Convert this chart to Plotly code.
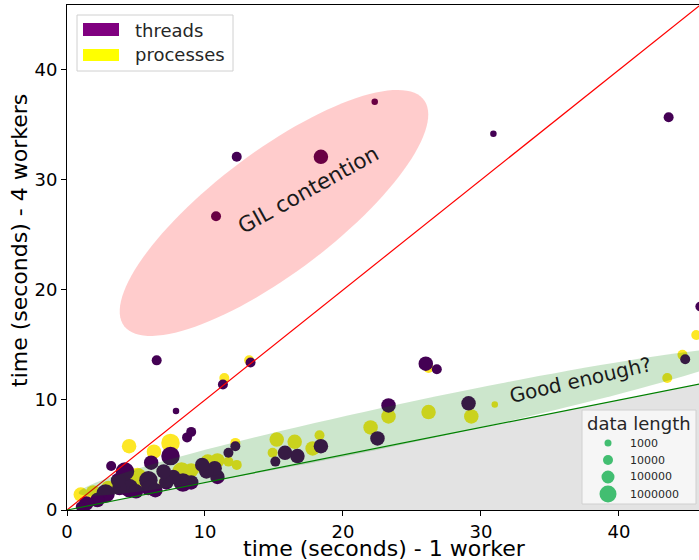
import numpy as np
import plotly.graph_objects as go

# ---------------- data ----------------
threads_x = [22.3, 12.3, 18.4, 10.8, 30.9, 43.6, 45.9, 6.5, 13.3, 11.3, 7.9, 8.7, 9.0,
             26.0, 26.8, 44.8, 29.1, 23.3, 22.5, 18.4, 16.7, 15.8, 15.1, 12.2, 11.7,
             10.9, 10.7, 10.1, 9.8, 9.0, 8.4, 7.7, 7.2, 7.0, 7.5, 6.1, 5.9, 5.9, 6.4,
             4.5, 4.2, 3.8, 3.2, 3.7, 2.8, 2.2, 1.4, 1.0, 5.0]
threads_y = [37.1, 32.1, 32.1, 26.7, 34.2, 35.7, 18.5, 13.6, 13.4, 11.4, 9.0, 6.6, 7.1,
             13.3, 12.8, 13.7, 9.7, 9.5, 6.5, 5.8, 4.9, 5.2, 4.4, 5.8, 5.2,
             3.0, 3.8, 3.5, 4.1, 2.5, 2.5, 3.0, 2.5, 3.5, 4.9, 4.3, 2.7, 2.0, 1.8,
             2.0, 3.5, 2.0, 4.0, 2.7, 1.5, 0.9, 0.6, 0.3, 1.7]
threads_len = [1e3, 1e4, 1e5, 1e4, 1e3, 1e4, 1e4, 1e4, 1e4, 1e4, 1e3, 1e4, 1e4,
               1e5, 1e4, 1e4, 1e5, 1e5, 1e5, 1e5, 1e5, 1e5, 1e4, 1e4, 1e4,
               1e5, 1e5, 1e5, 1e5, 1e5, 1e6, 1e5, 1e5, 1e5, 1e6, 1e5, 1e6, 1e5, 1e5,
               1e6, 1e6, 1e5, 1e4, 1e5, 1e6, 1e5, 1e5, 1e4, 1e5]

proc_x = [13.2, 11.4, 4.5, 6.3, 7.5, 12.2, 12.3, 10.9, 10.2, 11.7, 9.0, 9.9, 15.2,
          16.5, 14.9, 18.3, 17.8, 22.0, 23.3, 26.2, 29.3, 31.0, 26.2, 43.5, 44.6,
          45.6, 1.0, 1.9, 3.0, 5.1, 8.3, 7.0, 5.7]
proc_y = [13.6, 12.0, 5.8, 5.3, 6.1, 6.1, 4.1, 4.5, 4.4, 4.4, 3.6, 3.9, 6.4,
          6.2, 5.2, 6.8, 5.6, 7.5, 8.5, 8.9, 8.5, 9.6, 12.9, 12.0, 14.1,
          15.9, 1.4, 1.6, 2.0, 3.0, 3.5, 2.5, 2.4]
proc_len = [1e4, 1e4, 1e5, 1e5, 1e6, 1e4, 1e4, 1e5, 1e5, 1e4, 1e5, 1e5, 1e5,
            1e5, 1e4, 1e4, 1e5, 1e5, 1e5, 1e5, 1e5, 1e3, 1e4, 1e4, 1e4,
            1e4, 1e5, 1e5, 1e5, 1e6, 1e6, 1e4, 1e5]

x_ticks = [0, 10, 20, 30, 40]
y_ticks = [0, 10, 20, 30, 40]
size_legend = [1000, 10000, 100000, 1000000]

# ---------------- styling helpers ----------------
FONT = "DejaVu Sans"
PURPLE = "#440154"
YELLOW = "#fde725"
XMAX, YMAX = 45.8, 45.9
L, T, W, H = 67, 5, 699, 560
B = 510
PW = W - L
PH = B - T


def msize(n):
    return {3: 6.5, 4: 10, 5: 14.5, 6: 18.5}[int(round(np.log10(n)))]


def lsize(n):
    return {3: 7, 4: 10, 5: 13, 6: 17}[int(round(np.log10(n)))]


def px(xp):
    return (xp - L) / PW


def py(yp):
    return (B - yp) / PH


def ellipse_path(cx, cy, w, h, ang, n=120):
    t = np.linspace(0, 2 * np.pi, n)
    a = np.deg2rad(ang)
    xs = cx + w / 2 * np.cos(t) * np.cos(a) - h / 2 * np.sin(t) * np.sin(a)
    ys = cy + w / 2 * np.cos(t) * np.sin(a) + h / 2 * np.sin(t) * np.cos(a)
    d = "M " + " L ".join(f"{x:.4f},{y:.4f}" for x, y in zip(xs, ys)) + " Z"
    return d


fig = go.Figure()

fig.add_trace(go.Scatter(x=proc_x, y=proc_y, mode="markers", showlegend=False,
                         marker=dict(color=YELLOW, size=[msize(v) for v in proc_len],
                                     opacity=1, line=dict(width=0))))
fig.add_trace(go.Scatter(x=threads_x, y=threads_y, mode="markers", showlegend=False,
                         marker=dict(color=PURPLE, size=[msize(v) for v in threads_len],
                                     opacity=1, line=dict(width=0))))

shapes = []
# gray region below y = x/4
shapes.append(dict(type="path", xref="x", yref="y", layer="below",
                   path="M 0,0 L 60,15 L 60,0 Z",
                   fillcolor="#e3e3e3", line=dict(width=0)))
# reference lines
shapes.append(dict(type="line", xref="x", yref="y", x0=0, y0=0, x1=60, y1=60,
                   line=dict(color="red", width=1.2), layer="above"))
shapes.append(dict(type="line", xref="x", yref="y", x0=0, y0=0, x1=60, y1=15,
                   line=dict(color="green", width=1.2), layer="above"))
# ellipses
shapes.append(dict(type="path", xref="x", yref="y", layer="above",
                   path=ellipse_path(15, 27, 30, 10, 45),
                   fillcolor="rgba(255,0,0,0.2)", line=dict(width=0)))
shapes.append(dict(type="path", xref="x", yref="y", layer="above",
                   path=ellipse_path(25, 8, 50, 3.6, 15),
                   fillcolor="rgba(0,128,0,0.2)", line=dict(width=0)))

# legend 1 (threads / processes)
shapes.append(dict(type="rect", xref="paper", yref="paper", layer="above",
                   x0=px(77), x1=px(233), y0=py(71), y1=py(15),
                   fillcolor="rgba(255,255,255,0.8)", line=dict(color="#d0d0d0", width=1)))
shapes.append(dict(type="rect", xref="paper", yref="paper", layer="above",
                   x0=px(83), x1=px(119), y0=py(36), y1=py(23),
                   fillcolor="#800080", line=dict(width=0)))
shapes.append(dict(type="rect", xref="paper", yref="paper", layer="above",
                   x0=px(83), x1=px(119), y0=py(61), y1=py(49),
                   fillcolor="#ffff00", line=dict(width=0)))

# legend 2 (data length)
shapes.append(dict(type="rect", xref="paper", yref="paper", layer="above",
                   x0=px(582), x1=px(696), y0=py(504), y1=py(410),
                   fillcolor="rgba(247,247,247,0.9)", line=dict(color="#d0d0d0", width=1)))
leg_y = [443, 460, 477, 494]
for n, yy in zip(size_legend, leg_y):
    r = lsize(n) / 2
    shapes.append(dict(type="circle", xref="paper", yref="paper", layer="above",
                       xsizemode="pixel", ysizemode="pixel",
                       xanchor=px(608), yanchor=py(yy),
                       x0=-r, x1=r, y0=-r, y1=r,
                       fillcolor="#42be71", line=dict(width=0)))

annotations = []
annotations.append(dict(xref="paper", yref="paper", x=px(133), y=py(30), xanchor="left",
                        yanchor="middle", text="threads", showarrow=False,
                        font=dict(family=FONT, size=18, color="#262626")))
annotations.append(dict(xref="paper", yref="paper", x=px(133), y=py(55), xanchor="left",
                        yanchor="middle", text="processes", showarrow=False,
                        font=dict(family=FONT, size=18, color="#262626")))
annotations.append(dict(xref="paper", yref="paper", x=px(639), y=py(423), xanchor="center",
                        yanchor="middle", text="data length", showarrow=False,
                        font=dict(family=FONT, size=18, color="#262626")))
for n, yy in zip(size_legend, leg_y):
    annotations.append(dict(xref="paper", yref="paper", x=px(628), y=py(yy), xanchor="left",
                            yanchor="middle", text=str(n), showarrow=False,
                            font=dict(family=FONT, size=11, color="#262626")))
# in-plot labels
annotations.append(dict(xref="x", yref="y", x=17.5, y=29.1, text="GIL contention",
                        textangle=-29, showarrow=False,
                        font=dict(family=FONT, size=21.5, color="#1a1a1a")))
annotations.append(dict(xref="x", yref="y", x=37.2, y=11.8, text="Good enough?",
                        textangle=-13, showarrow=False,
                        font=dict(family=FONT, size=20, color="#1a1a1a")))
# axis titles
annotations.append(dict(xref="paper", yref="paper", x=px(384), y=0, yshift=-38,
                        xanchor="center", yanchor="middle",
                        text="time (seconds) - 1 worker", showarrow=False,
                        font=dict(family=FONT, size=22, color="black")))
annotations.append(dict(xref="paper", yref="paper", x=0, xshift=-47, y=py(241),
                        xanchor="center", yanchor="middle", textangle=-90,
                        text="time (seconds) - 4 workers", showarrow=False,
                        font=dict(family=FONT, size=22, color="black")))

fig.update_layout(
    width=W, height=H, autosize=False,
    margin=dict(l=L, r=0, t=T, b=H - B, pad=0),
    plot_bgcolor="white", paper_bgcolor="white",
    shapes=shapes, annotations=annotations,
    showlegend=False,
    xaxis=dict(range=[0, XMAX], tickvals=x_ticks, showgrid=False, zeroline=False,
               showline=True, linecolor="black", linewidth=1, mirror=True,
               ticks="outside", ticklen=5, tickcolor="black",
               tickfont=dict(family=FONT, size=18, color="black")),
    yaxis=dict(range=[0, YMAX], tickvals=y_ticks, showgrid=False, zeroline=False,
               showline=True, linecolor="black", linewidth=1,
               ticks="outside", ticklen=5, tickcolor="black",
               tickfont=dict(family=FONT, size=18, color="black")),
)

fig.write_html("out.html", config={"displayModeBar": False},
               post_script="document.body.style.margin='0px';document.body.style.overflow='hidden';")
